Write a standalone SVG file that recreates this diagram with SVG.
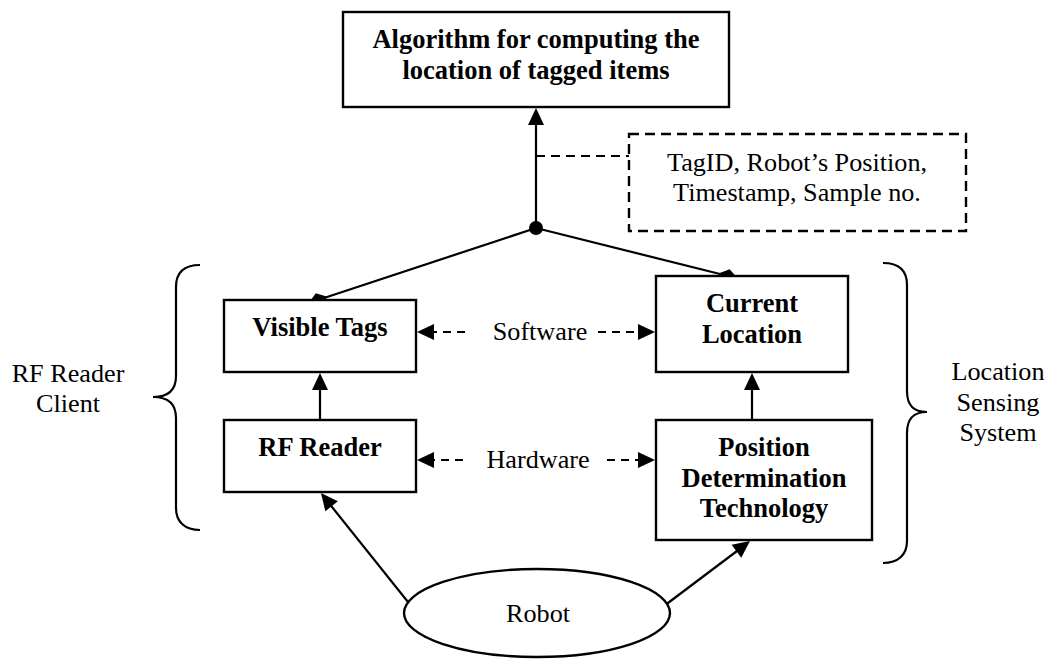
<svg xmlns="http://www.w3.org/2000/svg" width="1047" height="663" viewBox="0 0 1047 663">
  <style>
    .box { fill: #fff; stroke: #000; stroke-width: 2.4; }
    .note { fill: #fff; stroke: #000; stroke-width: 2.4; stroke-dasharray: 10 6; }
    .edge { fill: none; stroke: #000; stroke-width: 2.2; }
    .dash { fill: none; stroke: #000; stroke-width: 2.2; stroke-dasharray: 8 6; }
    .brace { fill: none; stroke: #000; stroke-width: 2.2; }
    .head { fill: #000; stroke: none; }
    text { font-family: "Liberation Serif", "Times New Roman", serif; fill: #000; text-anchor: middle; }
    .b { font-weight: bold; font-size: 26.5px; }
    .r { font-size: 26.2px; }
  </style>
  <defs>
    <!-- arrowhead with its tip at the origin, pointing along +x -->
    <path id="ah" d="M0,0 L-17,-8 L-17,8 Z"/>
    <!-- aggregation diamond centred on the origin, long axis along +x -->
    <path id="dm" d="M10,0 L0,-7 L-10,0 L0,7 Z"/>
  </defs>

  <!-- connectors -->
  <g id="connectors">
    <line class="edge" x1="536" y1="228" x2="536" y2="120"/>
    <line class="edge" x1="536" y1="228" x2="318" y2="300"/>
    <line class="edge" x1="536" y1="228" x2="728" y2="276"/>
    <line class="edge" x1="536" y1="156" x2="629" y2="156" stroke-dasharray="9 6"/>
    <line class="dash" x1="465" y1="332" x2="427" y2="332"/>
    <line class="dash" x1="598" y1="332" x2="645" y2="332"/>
    <line class="dash" x1="463" y1="460" x2="427" y2="460"/>
    <line class="dash" x1="607" y1="460" x2="645" y2="460"/>
    <line class="edge" x1="320" y1="420" x2="320" y2="385"/>
    <line class="edge" x1="752" y1="420" x2="752" y2="385"/>
    <line class="edge" x1="416" y1="612" x2="328" y2="502"/>
    <line class="edge" x1="656" y1="612" x2="741" y2="548"/>
    <circle cx="536" cy="228" r="7" fill="#000"/>
    <use href="#ah" class="head" transform="translate(536,108) rotate(-90)"/>
    <use href="#ah" class="head" transform="translate(417,332) rotate(180)"/>
    <use href="#ah" class="head" transform="translate(655,332)"/>
    <use href="#ah" class="head" transform="translate(417,460) rotate(180)"/>
    <use href="#ah" class="head" transform="translate(655,460)"/>
    <use href="#ah" class="head" transform="translate(320,373) rotate(-90)"/>
    <use href="#ah" class="head" transform="translate(752,373) rotate(-90)"/>
    <use href="#ah" class="head" transform="translate(321,493) rotate(-128.6)"/>
    <use href="#ah" class="head" transform="translate(750,541) rotate(-37.1)"/>
    <use href="#dm" class="head" transform="translate(318,300) rotate(161.7)"/>
    <use href="#dm" class="head" transform="translate(728,276) rotate(14)"/>
  </g>

  <g id="algorithm">
    <rect class="box" x="343" y="12" width="386" height="95"/>
    <text class="b" x="536" y="48">Algorithm for computing the</text>
    <text class="b" x="536" y="79">location of tagged items</text>
  </g>

  <g id="record-note">
    <rect class="note" x="629" y="134" width="337" height="97"/>
    <text class="r" x="797" y="171">TagID, Robot’s Position,</text>
    <text class="r" x="797" y="201">Timestamp, Sample no.</text>
  </g>

  <g id="visible-tags">
    <rect class="box" x="224" y="300" width="192" height="72"/>
    <text class="b" x="320" y="336">Visible Tags</text>
  </g>

  <g id="current-location">
    <rect class="box" x="656" y="276" width="192" height="96"/>
    <text class="b" x="752" y="312">Current</text>
    <text class="b" x="752" y="343">Location</text>
  </g>

  <g id="rf-reader">
    <rect class="box" x="224" y="420" width="192" height="72"/>
    <text class="b" x="320" y="456">RF Reader</text>
  </g>

  <g id="position-tech">
    <rect class="box" x="656" y="420" width="216" height="120"/>
    <text class="b" x="764" y="456">Position</text>
    <text class="b" x="764" y="487">Determination</text>
    <text class="b" x="764" y="517">Technology</text>
  </g>

  <g id="robot">
    <ellipse class="box" cx="537" cy="613" rx="133" ry="44"/>
    <text class="r" x="538" y="622">Robot</text>
  </g>

  <g id="layer-labels">
    <text class="r" x="540" y="340">Software</text>
    <text class="r" x="538" y="468">Hardware</text>
  </g>

  <g id="rf-reader-client">
    <path class="brace" d="M200,265 C185,265 176,272 176,287 L176,376 C176,390 168,397 153,397 C168,397 176,404 176,418 L176,508 C176,522 185,530 200,530"/>
    <text class="r" x="68" y="382">RF Reader</text>
    <text class="r" x="68" y="412">Client</text>
  </g>

  <g id="location-sensing-system">
    <path class="brace" d="M883,263 C898,263 907,270 907,285 L907,391 C907,405 913,412 927,412 C913,412 907,419 907,433 L907,541 C907,555 898,563 883,563"/>
    <text class="r" x="998" y="380">Location</text>
    <text class="r" x="998" y="411">Sensing</text>
    <text class="r" x="998" y="441">System</text>
  </g>
</svg>
